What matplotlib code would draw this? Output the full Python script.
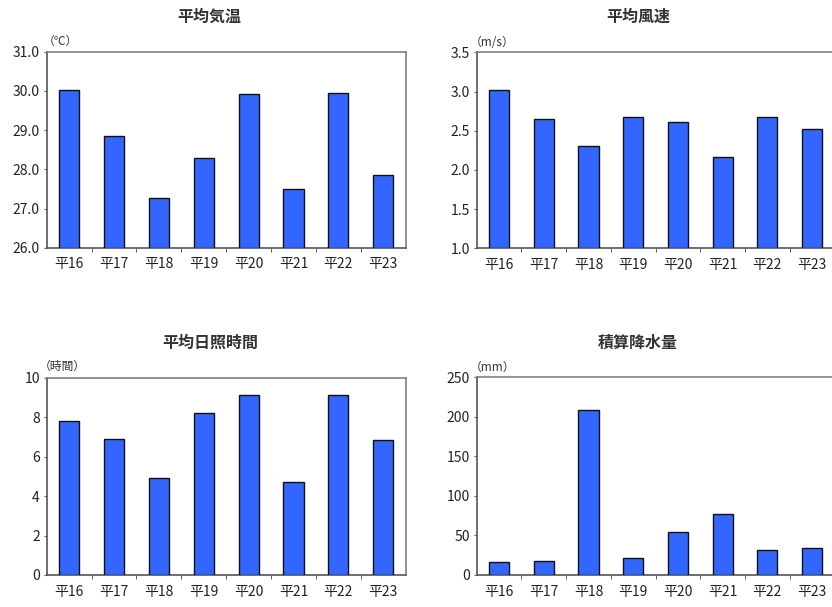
import numpy as np
import matplotlib
matplotlib.use("Agg")
import matplotlib.pyplot as plt
from matplotlib.ticker import FixedLocator

plt.rcParams['font.family'] = ['Noto Sans CJK JP', 'DejaVu Sans']

years = ["平16", "平17", "平18", "平19", "平20", "平21", "平22", "平23"]

temp = [30.03, 28.85, 27.27, 28.30, 29.92, 27.50, 29.95, 27.85]
wind = [3.02, 2.65, 2.31, 2.67, 2.61, 2.17, 2.68, 2.52]
sun = [7.8, 6.9, 4.9, 8.2, 9.1, 4.7, 9.1, 6.85]
rain = [16, 18, 209, 21, 54, 77, 31, 34]

W, H = 832, 607
fig = plt.figure(figsize=(W / 100, H / 100), dpi=100)
fig.patch.set_facecolor("white")


def px_axes(x0, y0, x1, y1):
    # pixel box (top-left origin) -> figure fraction
    return fig.add_axes([x0 / W, 1 - y1 / H, (x1 - x0) / W, (y1 - y0) / H])


panels = [
    # data, ylim, step, fmt, title, unit, box, title_x, title_y, unit_x, unit_y
    (temp, (26, 31), 1.0, "{:.1f}", "平均気温", "（℃）", (46.7, 51.7, 405.7, 247.7), 209, 17, 43, 41),
    (wind, (1.0, 3.5), 0.5, "{:.1f}", "平均風速", "（m/s）", (476.7, 52.3, 834.5, 248.3), 638, 17, 470, 42),
    (sun, (0, 10), 2, "{:.0f}", "平均日照時間", "（時間）", (46.7, 377.7, 405.7, 575), 210, 343, 39, 366),
    (rain, (0, 250), 50, "{:.0f}", "積算降水量", "（mm）", (476.7, 377.3, 834.5, 575), 638, 343, 470, 367),
]

x = np.arange(len(years))
for vals, ylim, step, fmt, title, unit, box, tx, ty, ux, uy in panels:
    ax = px_axes(*box)
    ax.bar(x, np.array(vals) - ylim[0], bottom=ylim[0], width=0.45,
           color="#3366FF", edgecolor="#111111", linewidth=1.0, zorder=3)
    ax.set_xlim(-0.5, len(years) - 0.5)
    ax.set_ylim(*ylim)
    ticks = np.arange(ylim[0], ylim[1] + step / 2, step)
    ax.set_yticks(ticks)
    ax.set_yticklabels([fmt.format(t) for t in ticks], fontsize=10, color="#222222")
    ax.set_xticks(x)
    ax.set_xticklabels(years, fontsize=10, color="#222222")
    ax.tick_params(axis="x", which="major", length=0, pad=7)
    ax.xaxis.set_minor_locator(FixedLocator(np.arange(0.5, len(years) - 1, 1)))
    ax.tick_params(axis="x", which="minor", length=3, direction="out", color="#444444")
    ax.tick_params(axis="y", length=2, direction="out", color="#666666", pad=3)
    for side in ["top", "right"]:
        ax.spines[side].set_color("#808080")
        ax.spines[side].set_linewidth(1.2)
    for side in ["left", "bottom"]:
        ax.spines[side].set_color("#555555")
        ax.spines[side].set_linewidth(1.2)
    fig.text(tx / W, 1 - ty / H, title, ha="center", va="center",
             fontsize=11.5, fontweight="bold", color="#333333")
    fig.text(ux / W, 1 - uy / H, unit, ha="left", va="center",
             fontsize=8.5, color="#333333")

fig.savefig("out.png", dpi=100, facecolor="white")
